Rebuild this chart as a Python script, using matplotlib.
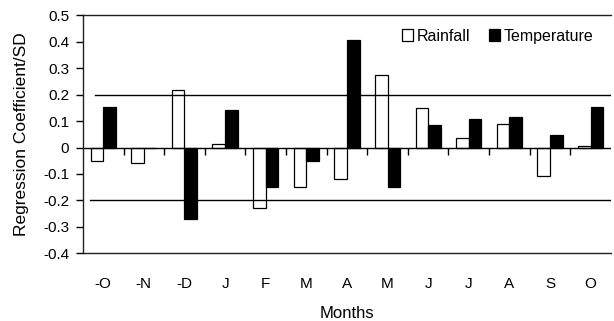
import numpy as np
import matplotlib
matplotlib.use('Agg')
import matplotlib.pyplot as plt
from matplotlib.ticker import FuncFormatter

plt.rcParams['font.family'] = ['Liberation Sans', 'DejaVu Sans']
plt.rcParams['font.size'] = 11
plt.rcParams['axes.unicode_minus'] = False

# months of the growth year, previous Oct to current Oct
months = ['-O', '-N', '-D', 'J', 'F', 'M', 'A', 'M', 'J', 'J', 'A', 'S', 'O']
rainfall = [-0.049, -0.059, 0.219, 0.012, -0.23, -0.149, -0.118, 0.276, 0.149, 0.035, 0.089, -0.106, 0.005]
temperature = [0.155, 0.0, -0.271, 0.143, -0.149, -0.05, 0.406, -0.149, 0.084, 0.108, 0.114, 0.049, 0.155]
yticks = [-0.4, -0.3, -0.2, -0.1, 0, 0.1, 0.2, 0.3, 0.4, 0.5]

fig = plt.figure(figsize=(6.14, 3.21), dpi=100)
ax = fig.add_axes([0.135, 0.211, 0.86, 0.741])

x = np.arange(len(months))
w = 0.31
ax.bar(x - w, rainfall, w, align='edge', color='white', edgecolor='black', linewidth=0.9, label='Rainfall')
ax.bar(x, temperature, w, align='edge', color='black', edgecolor='black', linewidth=0.9, label='Temperature')

ax.set_xlim(-0.5, len(months) - 0.5)
ax.set_ylim(-0.4, 0.5)
ax.set_yticks(yticks)
ax.yaxis.set_major_formatter(FuncFormatter(lambda v, p: '%g' % round(v, 2)))
ax.tick_params(axis='y', direction='out', length=5, width=1, pad=5, colors='black', labelsize=11)

ax.set_xticks(x)
ax.set_xticklabels(months)
ax.tick_params(axis='x', length=0, pad=17, labelsize=11)

# significance lines
ax.axhline(0.2, xmin=0.023, color='black', linewidth=1)
ax.axhline(-0.2, xmin=0.013, color='black', linewidth=1)
ax.axhline(0, color='black', linewidth=1)

# category tick marks on the zero line
lo, hi = ax.get_ylim()
sec = ax.secondary_xaxis((0 - lo) / (hi - lo))
sec.set_xticks(x[:-1] + 0.5)
sec.set_xticklabels([])
sec.tick_params(direction='out', length=5, width=1)
sec.spines['bottom'].set_visible(False)

for s in ['top', 'bottom', 'left']:
    ax.spines[s].set_linewidth(1)
    ax.spines[s].set_color('#222222')
ax.spines['right'].set_visible(False)

ax.set_xlabel('Months', fontsize=12, labelpad=11)
ax.set_ylabel('Regression Coefficient/SD', fontsize=12.5, labelpad=10)

ax.legend(loc='upper right', bbox_to_anchor=(0.985, 0.985), ncol=2, frameon=False,
          handlelength=0.7, handleheight=0.7, handletextpad=0.2, columnspacing=1.2,
          fontsize=11.5, borderaxespad=0.2)

fig.savefig('out.png', dpi=100, facecolor='white')
